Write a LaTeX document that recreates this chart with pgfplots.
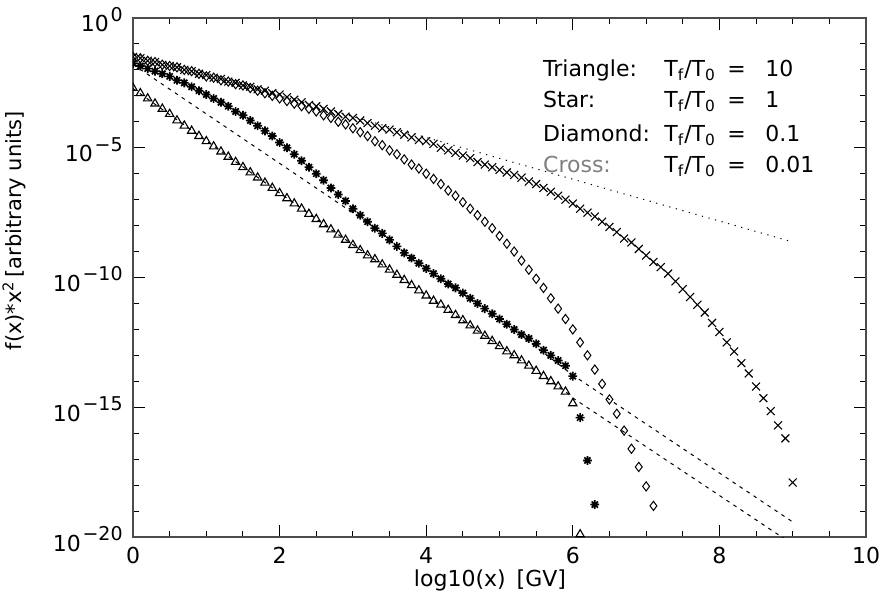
\documentclass[border=0pt]{standalone}
\usepackage{fontspec}
\setmainfont{DejaVu Sans}
\usepackage{pgfplots}
\pgfplotsset{compat=1.18}
\pgfdeclareplotmark{idlstar}{%
  \pgfpathmoveto{\pgfqpoint{-\pgfplotmarksize}{0pt}}\pgfpathlineto{\pgfqpoint{\pgfplotmarksize}{0pt}}%
  \pgfpathmoveto{\pgfqpoint{0pt}{-\pgfplotmarksize}}\pgfpathlineto{\pgfqpoint{0pt}{\pgfplotmarksize}}%
  \pgfpathmoveto{\pgfqpoint{-.7071\pgfplotmarksize}{-.7071\pgfplotmarksize}}\pgfpathlineto{\pgfqpoint{.7071\pgfplotmarksize}{.7071\pgfplotmarksize}}%
  \pgfpathmoveto{\pgfqpoint{-.7071\pgfplotmarksize}{.7071\pgfplotmarksize}}\pgfpathlineto{\pgfqpoint{.7071\pgfplotmarksize}{-.7071\pgfplotmarksize}}%
  \pgfusepathqstroke}
\newcommand{\tp}[1]{10\kern0.8pt\raisebox{5.3pt}{\fontsize{9.5}{9.5}\selectfont #1}}
\begin{document}
\begin{tikzpicture}
\begin{axis}[
  scale only axis, width=366.5pt, height=259.5pt,
  xmin=0, xmax=10, ymode=log, ymin=1e-20, ymax=1,
  xtick={0,2,4,6,8,10}, xticklabels={0,2,4,6,8,10},
  minor xtick={0.5,1,1.5,2.5,3,3.5,4.5,5,5.5,6.5,7,7.5,8.5,9,9.5},
  ytick={1e-20,1e-15,1e-10,1e-5,1},
  yticklabels={\tp{−20},\tp{−15},\tp{−10},\tp{−5},\tp{0}},
  minor ytick={1e-19,1e-18,1e-17,1e-16,1e-14,1e-13,1e-12,1e-11,1e-9,1e-8,1e-7,1e-6,1e-4,1e-3,1e-2,1e-1},
  tick align=inside, major tick length=6pt, minor tick length=3pt,
  every tick/.style={black, line width=0.5pt},
  axis line style={black!70, line width=0.6pt},
  font=\fontsize{11}{13}\selectfont,
  xticklabel style={anchor=north, inner sep=0pt, yshift=-5pt},
  yticklabel style={anchor=base east, inner sep=0pt, xshift=-5pt, yshift=-7pt},
  xlabel={log10(x)\enspace[GV]},
  xlabel style={at={(axis description cs:0.487,0)}, anchor=north, yshift=-16pt, inner sep=0pt},
  ylabel={f(x)*x\textsuperscript{2}\,[arbitrary units]},
  ylabel style={at={(axis description cs:-0.1623,0.59)}, anchor=center, inner sep=0pt, font=\fontsize{10.5}{12}\selectfont},
  clip marker paths=true,
]
% power-law reference lines
\addplot[black, line width=0.5pt, dash pattern=on 0.6pt off 2.8pt] coordinates {(0,4.17e-2) (9,2.34e-9)};
\addplot[black, line width=0.5pt, dash pattern=on 1.8pt off 2.4pt] coordinates {(0,1.62e-2) (3.18,1.41e-8) (3.4,5.01e-9) (4,2.24e-10) (5,2.51e-12) (6,1.74e-14) (9,3.80e-20)};
\addplot[black, line width=0.5pt, dash pattern=on 1.8pt off 2.4pt] coordinates {(0,1.91e-3) (2.7,7.08e-9) (5.9,4.07e-15) (6.0,2.29e-15) (9,5.25e-21)};
% Triangle: Tf/T0 = 10
\addplot[only marks, mark=triangle, mark size=2.4pt, black, line width=0.55pt] table {
0.0 2.00e-3
0.1 1.26e-3
0.2 7.94e-4
0.3 5.01e-4
0.4 3.16e-4
0.5 2.00e-4
0.6 1.12e-4
0.7 7.08e-5
0.8 4.47e-5
0.9 2.82e-5
1.0 1.78e-5
1.1 1.12e-5
1.2 7.08e-6
1.3 4.47e-6
1.4 2.82e-6
1.5 1.78e-6
1.6 1.12e-6
1.7 7.08e-7
1.8 4.47e-7
1.9 2.82e-7
2.0 1.78e-7
2.1 1.12e-7
2.2 7.08e-8
2.3 4.47e-8
2.4 2.82e-8
2.5 1.78e-8
2.6 1.12e-8
2.7 7.08e-9
2.8 4.47e-9
2.9 2.82e-9
3.0 1.78e-9
3.1 1.12e-9
3.2 7.08e-10
3.3 5.01e-10
3.4 3.16e-10
3.5 2.00e-10
3.6 1.26e-10
3.7 7.94e-11
3.8 5.01e-11
3.9 3.16e-11
4.0 2.00e-11
4.1 1.26e-11
4.2 8.91e-12
4.3 5.62e-12
4.4 3.55e-12
4.5 2.24e-12
4.6 1.41e-12
4.7 8.91e-13
4.8 5.62e-13
4.9 3.55e-13
5.0 2.24e-13
5.1 1.41e-13
5.2 1.00e-13
5.3 6.31e-14
5.4 3.98e-14
5.5 2.51e-14
5.6 1.58e-14
5.7 1.00e-14
5.8 6.31e-15
5.9 3.98e-15
6.0 1.41e-15
6.1 1.26e-20
};
% Star: Tf/T0 = 1
\addplot[only marks, mark=idlstar, mark size=2.2pt, black, line width=0.85pt] table {
0.0 1.78e-2
0.1 1.41e-2
0.2 1.12e-2
0.3 8.91e-3
0.4 7.08e-3
0.5 5.62e-3
0.6 3.98e-3
0.7 3.16e-3
0.8 2.24e-3
0.9 1.58e-3
1.0 1.12e-3
1.1 7.94e-4
1.2 5.62e-4
1.3 3.98e-4
1.4 2.51e-4
1.5 1.78e-4
1.6 1.12e-4
1.7 7.08e-5
1.8 4.47e-5
1.9 2.82e-5
2.0 1.58e-5
2.1 1.00e-5
2.2 5.62e-6
2.3 3.16e-6
2.4 1.78e-6
2.5 1.00e-6
2.6 5.62e-7
2.7 2.82e-7
2.8 1.58e-7
2.9 8.91e-8
3.0 4.47e-8
3.1 2.51e-8
3.2 1.41e-8
3.3 7.94e-9
3.4 5.01e-9
3.5 2.82e-9
3.6 1.58e-9
3.7 8.91e-10
3.8 5.62e-10
3.9 3.55e-10
4.0 2.24e-10
4.1 1.41e-10
4.2 8.91e-11
4.3 5.62e-11
4.4 3.98e-11
4.5 2.51e-11
4.6 1.58e-11
4.7 1.00e-11
4.8 6.31e-12
4.9 3.98e-12
5.0 2.51e-12
5.1 1.58e-12
5.2 1.00e-12
5.3 6.31e-13
5.4 4.47e-13
5.5 2.82e-13
5.6 1.58e-13
5.7 1.00e-13
5.8 6.31e-14
5.9 3.98e-14
6.0 1.58e-14
6.1 3.98e-16
6.2 8.91e-18
6.3 1.78e-19
};
% Diamond: Tf/T0 = 0.1
\addplot[only marks, mark=diamond, mark size=2.3pt, black, line width=0.5pt] table {
0.0 3.16e-2
0.1 2.82e-2
0.2 2.24e-2
0.3 2.00e-2
0.4 1.58e-2
0.5 1.41e-2
0.6 1.26e-2
0.7 1.00e-2
0.8 8.91e-3
0.9 7.08e-3
1.0 5.62e-3
1.1 5.01e-3
1.2 3.98e-3
1.3 3.55e-3
1.4 2.82e-3
1.5 2.51e-3
1.6 2.00e-3
1.7 1.58e-3
1.8 1.26e-3
1.9 1.00e-3
2.0 7.94e-4
2.1 6.31e-4
2.2 5.01e-4
2.3 3.98e-4
2.4 3.16e-4
2.5 2.51e-4
2.6 1.78e-4
2.7 1.41e-4
2.8 1.00e-4
2.9 7.94e-5
3.0 5.62e-5
3.1 3.98e-5
3.2 2.82e-5
3.3 1.78e-5
3.4 1.26e-5
3.5 7.94e-6
3.6 5.62e-6
3.7 3.55e-6
3.8 2.24e-6
3.9 1.58e-6
4.0 1.00e-6
4.1 6.31e-7
4.2 3.98e-7
4.3 2.24e-7
4.4 1.41e-7
4.5 7.94e-8
4.6 4.47e-8
4.7 2.51e-8
4.8 1.41e-8
4.9 7.94e-9
5.0 3.98e-9
5.1 2.00e-9
5.2 1.00e-9
5.3 4.47e-10
5.4 2.00e-10
5.5 8.91e-11
5.6 3.98e-11
5.7 1.58e-11
5.8 6.31e-12
5.9 2.51e-12
6.0 1.00e-12
6.1 3.16e-13
6.2 1.00e-13
6.3 2.82e-14
6.4 7.94e-15
6.5 2.00e-15
6.6 5.62e-16
6.7 1.26e-16
6.8 2.51e-17
6.9 5.01e-18
7.0 8.91e-19
7.1 1.58e-19
};
% Cross: Tf/T0 = 0.01
\addplot[only marks, mark=x, mark size=2.8pt, black, line width=0.55pt] table {
0.0 3.16e-2
0.1 2.82e-2
0.2 2.24e-2
0.3 2.00e-2
0.4 1.58e-2
0.5 1.41e-2
0.6 1.26e-2
0.7 1.00e-2
0.8 8.91e-3
0.9 7.08e-3
1.0 6.31e-3
1.1 5.01e-3
1.2 4.47e-3
1.3 3.55e-3
1.4 3.16e-3
1.5 2.51e-3
1.6 2.24e-3
1.7 1.78e-3
1.8 1.58e-3
1.9 1.26e-3
2.0 1.12e-3
2.1 8.91e-4
2.2 7.08e-4
2.3 5.62e-4
2.4 4.47e-4
2.5 3.98e-4
2.6 3.16e-4
2.7 2.51e-4
2.8 2.00e-4
2.9 1.58e-4
3.0 1.41e-4
3.1 1.12e-4
3.2 8.91e-5
3.3 7.08e-5
3.4 5.62e-5
3.5 5.01e-5
3.6 3.98e-5
3.7 3.16e-5
3.8 2.51e-5
3.9 2.00e-5
4.0 1.78e-5
4.1 1.41e-5
4.2 1.00e-5
4.3 7.94e-6
4.4 6.31e-6
4.5 5.01e-6
4.6 3.98e-6
4.7 2.82e-6
4.8 2.24e-6
4.9 1.78e-6
5.0 1.41e-6
5.1 1.12e-6
5.2 8.91e-7
5.3 7.08e-7
5.4 5.01e-7
5.5 3.98e-7
5.6 2.82e-7
5.7 2.00e-7
5.8 1.41e-7
5.9 1.00e-7
6.0 7.08e-8
6.1 4.47e-8
6.2 3.16e-8
6.3 2.24e-8
6.4 1.41e-8
6.5 8.91e-9
6.6 5.62e-9
6.7 3.16e-9
6.8 2.24e-9
6.9 1.26e-9
7.0 7.08e-10
7.1 3.98e-10
7.2 2.51e-10
7.3 1.41e-10
7.4 7.08e-11
7.5 3.55e-11
7.6 1.78e-11
7.7 8.91e-12
7.8 4.47e-12
7.9 1.78e-12
8.0 7.94e-13
8.1 3.16e-13
8.2 1.41e-13
8.3 5.01e-14
8.4 2.00e-14
8.5 6.31e-15
8.6 2.24e-15
8.7 7.08e-16
8.8 2.00e-16
8.9 6.31e-17
9.0 1.26e-18
};
% annotation
\node[anchor=base west, inner sep=0pt] at (rel axis cs:0.559,0.888) {Triangle:};
\node[anchor=base west, inner sep=0pt] at (rel axis cs:0.559,0.827) {Star:};
\node[anchor=base west, inner sep=0pt] at (rel axis cs:0.559,0.762) {Diamond:};
\node[anchor=base west, inner sep=0pt, text=black!50] at (rel axis cs:0.559,0.702) {Cross:};
\node[anchor=base west, inner sep=0pt] at (rel axis cs:0.7244,0.888) {T\textsubscript{f}/T\textsubscript{0}};
\node[anchor=base west, inner sep=0pt] at (rel axis cs:0.7244,0.827) {T\textsubscript{f}/T\textsubscript{0}};
\node[anchor=base west, inner sep=0pt] at (rel axis cs:0.7244,0.762) {T\textsubscript{f}/T\textsubscript{0}};
\node[anchor=base west, inner sep=0pt] at (rel axis cs:0.7244,0.702) {T\textsubscript{f}/T\textsubscript{0}};
\node[anchor=base west, inner sep=0pt] at (rel axis cs:0.8104,0.888) {=};
\node[anchor=base west, inner sep=0pt] at (rel axis cs:0.8104,0.827) {=};
\node[anchor=base west, inner sep=0pt] at (rel axis cs:0.8104,0.762) {=};
\node[anchor=base west, inner sep=0pt] at (rel axis cs:0.8104,0.702) {=};
\node[anchor=base west, inner sep=0pt] at (rel axis cs:0.8622,0.888) {10};
\node[anchor=base west, inner sep=0pt] at (rel axis cs:0.8622,0.827) {1};
\node[anchor=base west, inner sep=0pt] at (rel axis cs:0.8622,0.762) {0.1};
\node[anchor=base west, inner sep=0pt] at (rel axis cs:0.8622,0.702) {0.01};
\end{axis}
\pgfresetboundingbox
\path[use as bounding box] (-66.5pt,-38pt) rectangle (374.5pt,268.5pt);
\end{tikzpicture}
\end{document}
